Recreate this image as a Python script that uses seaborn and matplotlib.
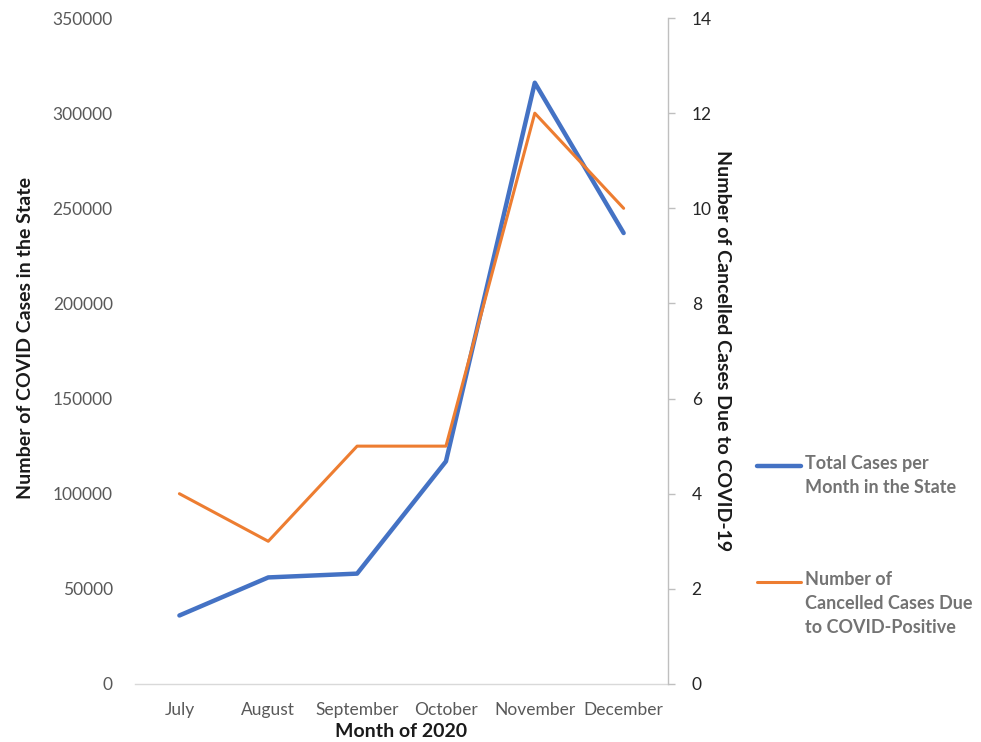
import matplotlib
matplotlib.use("Agg")
import matplotlib.pyplot as plt
from matplotlib.lines import Line2D
import seaborn as sns
import pandas as pd

months = ["July", "August", "September", "October", "November", "December"]
total_cases = [36000, 56000, 58000, 117000, 316000, 237000]
cancelled_cases = [4, 3, 5, 5, 12, 10]
left_ticks = [0, 50000, 100000, 150000, 200000, 250000, 300000, 350000]
right_ticks = [0, 2, 4, 6, 8, 10, 12, 14]

blue = "#4472C4"
orange = "#ED7D31"
gray_txt = "#595959"

sns.set_theme(style="white")
plt.rcParams["font.family"] = ["Lato", "DejaVu Sans"]

df = pd.DataFrame({"month": months, "total": total_cases, "cancelled": cancelled_cases})

fig = plt.figure(figsize=(9.81, 7.42), dpi=100)
ax = fig.add_axes([0.1376, 0.0782, 0.5434, 0.8975])
ax2 = ax.twinx()

sns.lineplot(data=df, x="month", y="total", sort=False, ax=ax, color=blue, lw=3.2)
sns.lineplot(data=df, x="month", y="cancelled", sort=False, ax=ax2, color=orange, lw=2.2)

ax.set_xlim(-0.5, len(months) - 0.5)
ax.set_ylim(0, 350000)
ax.set_yticks(left_ticks)
ax.set_yticklabels([str(t) for t in left_ticks])
ax2.set_ylim(0, 14)
ax2.set_yticks(right_ticks)

for s in ["top", "left", "right"]:
    ax.spines[s].set_visible(False)
ax.spines["bottom"].set_color("#D9D9D9")
ax.spines["bottom"].set_linewidth(1.0)
for s in ["top", "left", "bottom"]:
    ax2.spines[s].set_visible(False)
ax2.spines["right"].set_color("#BFBFBF")
ax2.spines["right"].set_linewidth(1.0)

ax.tick_params(axis="y", left=False, labelsize=12.5, labelcolor=gray_txt, pad=10)
ax.tick_params(axis="x", bottom=False, labelsize=12.5, labelcolor=gray_txt, pad=7)
ax2.tick_params(axis="y", right=True, length=5, width=1, color="#BFBFBF",
                labelsize=12.5, labelcolor="#262626", pad=12)

ax.set_xlabel("Month of 2020", fontsize=14, fontweight="bold", color="#1a1a1a", va="center")
ax.xaxis.set_label_coords(0.5, -0.072)
ax.set_ylabel("Number of COVID Cases in the State", fontsize=14, fontweight="bold",
              color="#1a1a1a")
ax.yaxis.set_label_coords(-0.19, 0.52)
ax2.set_ylabel("Number of Cancelled Cases Due to COVID-19", fontsize=14, fontweight="bold",
               color="#1a1a1a", rotation=270, labelpad=14)

# Legend drawn beside the plot, handle aligned to the first text line
entries = [
    (blue, 3.2, "Total Cases per\nMonth in the State", 466),
    (orange, 2.2, "Number of\nCancelled Cases Due\nto COVID-Positive", 582),
]
W, H = 981, 742
for color, lw, label, ypix in entries:
    yf = 1 - ypix / H
    fig.add_artist(Line2D([757 / W, 801 / W], [yf, yf], color=color, lw=lw,
                          transform=fig.transFigure, solid_capstyle="round"))
    fig.text(805 / W, yf + 11 / H, label, fontsize=13, fontweight="bold", color="#737373",
             ha="left", va="top", linespacing=1.5,
             transform=fig.transFigure)

fig.savefig("out.png", dpi=100)
